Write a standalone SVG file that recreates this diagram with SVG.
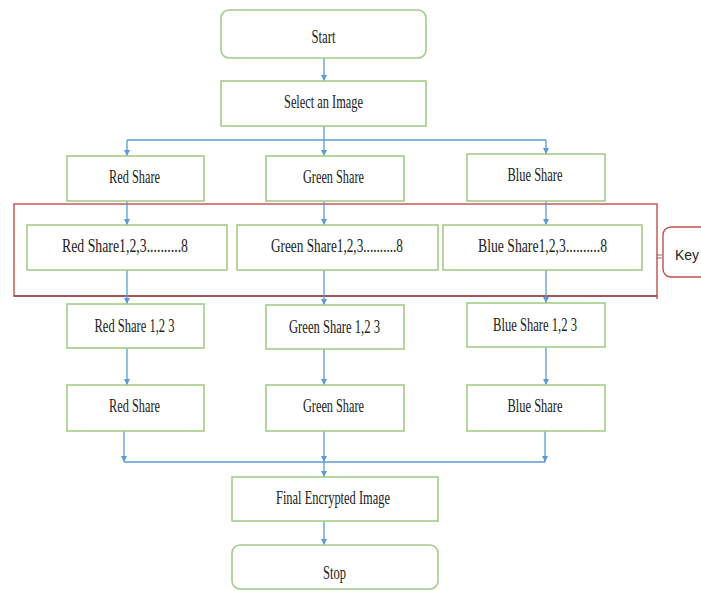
<svg xmlns="http://www.w3.org/2000/svg" width="701" height="591" viewBox="0 0 701 591">
<style>
.box{fill:#ffffff;stroke:#A3CC88;stroke-width:1.6}
.t{font-family:"Liberation Serif","Times New Roman",serif;font-size:18px;fill:#222222;text-anchor:middle}
.c{fill:none;stroke:#5B9BD5;stroke-width:1.3}
.red{fill:none;stroke:#C0504D;stroke-width:1.4}
</style>
<defs>
<marker id="ah" markerWidth="7" markerHeight="7" refX="6" refY="3" orient="auto" markerUnits="userSpaceOnUse">
<path d="M0,0 L6,3 L0,6 z" fill="#5B9BD5"/>
</marker>
</defs>
<rect width="701" height="591" fill="#ffffff"/>

<g id="keyregion">
<rect class="red" x="14" y="204" width="643" height="92"/>
<line x1="14" y1="296" x2="657" y2="296" stroke="#6b2a2a" stroke-width="1.2"/>
<line x1="657" y1="296" x2="657" y2="299" stroke="#C0504D" stroke-width="1.4"/>
</g>

<g id="connectors">
<line class="c" x1="324" y1="58" x2="324" y2="81" marker-end="url(#ah)"/>
<polyline class="c" points="324,126 324,140"/>
<line class="c" x1="127" y1="140" x2="546" y2="140"/>
<line class="c" x1="127" y1="140" x2="127" y2="156" marker-end="url(#ah)"/>
<line class="c" x1="324" y1="140" x2="324" y2="156" marker-end="url(#ah)"/>
<line class="c" x1="546" y1="140" x2="546" y2="154" marker-end="url(#ah)"/>
<line class="c" x1="127" y1="201" x2="127" y2="225" marker-end="url(#ah)"/>
<line class="c" x1="324" y1="201" x2="324" y2="225" marker-end="url(#ah)"/>
<line class="c" x1="546" y1="201" x2="546" y2="225" marker-end="url(#ah)"/>
<line class="c" x1="127" y1="270" x2="127" y2="304" marker-end="url(#ah)"/>
<line class="c" x1="324" y1="270" x2="324" y2="305" marker-end="url(#ah)"/>
<line class="c" x1="546" y1="270" x2="546" y2="303" marker-end="url(#ah)"/>
<line class="c" x1="127" y1="348" x2="127" y2="385" marker-end="url(#ah)"/>
<line class="c" x1="324" y1="349" x2="324" y2="385" marker-end="url(#ah)"/>
<line class="c" x1="546" y1="347" x2="546" y2="385" marker-end="url(#ah)"/>
<line class="c" x1="124" y1="431" x2="124" y2="462" marker-end="url(#ah)"/>
<line class="c" x1="324" y1="431" x2="324" y2="462" marker-end="url(#ah)"/>
<line class="c" x1="545" y1="431" x2="545" y2="462" marker-end="url(#ah)"/>
<line class="c" x1="124" y1="462" x2="545" y2="462"/>
<line class="c" x1="324" y1="462" x2="324" y2="477" marker-end="url(#ah)"/>
<line class="c" x1="324" y1="521" x2="324" y2="545" marker-end="url(#ah)"/>
<line x1="657" y1="255" x2="662" y2="255" stroke="#555555" stroke-width="0.8"/>
<line x1="657" y1="258" x2="662" y2="258" stroke="#555555" stroke-width="0.8"/>
</g>

<g id="start">
<rect class="box" x="221" y="10" width="205" height="48" rx="8"/>
<text class="t" x="323.5" y="43" textLength="24" lengthAdjust="spacingAndGlyphs">Start</text>
</g>
<g id="select">
<rect class="box" x="221" y="81" width="205" height="45"/>
<text class="t" x="323.5" y="108" textLength="79" lengthAdjust="spacingAndGlyphs">Select an Image</text>
</g>

<g id="red1">
<rect class="box" x="67" y="156" width="137" height="45"/>
<text class="t" x="134.5" y="183" textLength="51" lengthAdjust="spacingAndGlyphs">Red Share</text>
</g>
<g id="green1">
<rect class="box" x="266" y="156" width="138" height="45"/>
<text class="t" x="333.5" y="183" textLength="61" lengthAdjust="spacingAndGlyphs">Green Share</text>
</g>
<g id="blue1">
<rect class="box" x="467" y="154" width="138" height="47"/>
<text class="t" x="535" y="181" textLength="55" lengthAdjust="spacingAndGlyphs">Blue Share</text>
</g>

<g id="red2">
<rect class="box" x="27" y="225" width="200" height="45"/>
<text class="t" x="125" y="252" textLength="126" lengthAdjust="spacingAndGlyphs">Red Share1,2,3..........8</text>
</g>
<g id="green2">
<rect class="box" x="237" y="225" width="201" height="45"/>
<text class="t" x="337" y="252" textLength="132" lengthAdjust="spacingAndGlyphs">Green Share1,2,3..........8</text>
</g>
<g id="blue2">
<rect class="box" x="443" y="225" width="199" height="45"/>
<text class="t" x="542.5" y="252" textLength="129" lengthAdjust="spacingAndGlyphs">Blue Share1,2,3..........8</text>
</g>

<g id="red3">
<rect class="box" x="67" y="304" width="137" height="44"/>
<text class="t" x="134.5" y="332" textLength="80" lengthAdjust="spacingAndGlyphs">Red Share 1,2 3</text>
</g>
<g id="green3">
<rect class="box" x="266" y="305" width="138" height="44"/>
<text class="t" x="334.5" y="333" textLength="91" lengthAdjust="spacingAndGlyphs">Green Share 1,2 3</text>
</g>
<g id="blue3">
<rect class="box" x="467" y="303" width="138" height="44"/>
<text class="t" x="535" y="331" textLength="84" lengthAdjust="spacingAndGlyphs">Blue Share 1,2 3</text>
</g>

<g id="red4">
<rect class="box" x="67" y="385" width="137" height="46"/>
<text class="t" x="134.5" y="412" textLength="51" lengthAdjust="spacingAndGlyphs">Red Share</text>
</g>
<g id="green4">
<rect class="box" x="266" y="385" width="138" height="46"/>
<text class="t" x="333.5" y="412" textLength="61" lengthAdjust="spacingAndGlyphs">Green Share</text>
</g>
<g id="blue4">
<rect class="box" x="467" y="385" width="138" height="46"/>
<text class="t" x="535" y="412" textLength="55" lengthAdjust="spacingAndGlyphs">Blue Share</text>
</g>

<g id="final">
<rect class="box" x="232" y="477" width="206" height="44"/>
<text class="t" x="333" y="504" textLength="114" lengthAdjust="spacingAndGlyphs">Final Encrypted Image</text>
</g>
<g id="stop">
<rect class="box" x="232" y="545" width="206" height="44" rx="8"/>
<text class="t" x="334.5" y="579" textLength="23" lengthAdjust="spacingAndGlyphs">Stop</text>
</g>

<g id="key">
<rect x="663" y="227" width="60" height="50" rx="8" fill="#ffffff" stroke="#C0504D" stroke-width="1.4"/>
<text x="675" y="260" font-family="Liberation Sans, Arial, sans-serif" font-size="14" fill="#222222">Key</text>
</g>
</svg>
